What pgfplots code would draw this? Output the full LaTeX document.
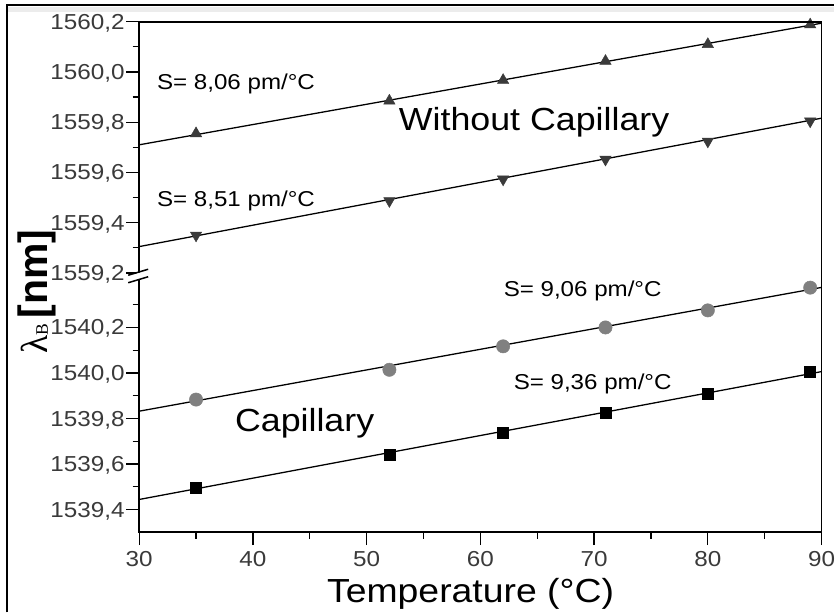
\documentclass[border=0pt]{standalone}
\usepackage{pgfplots}
\pgfplotsset{compat=1.18}
\usepackage{fontspec}
\setmainfont[FakeStretch=1.12]{Liberation Sans}
\newfontfamily\plain{Liberation Sans}
\newfontfamily\serif{Liberation Serif}

\definecolor{tickgray}{HTML}{3A3A3A}
\definecolor{tri}{HTML}{3A3A3A}
\definecolor{circ}{HTML}{808080}

% 1 px of the reference = 0.03cm; px coordinates are used in the scopes below
\pgfplotsset{
  brk/.style={
    scale only axis, width=20.49cm,
    xmin=30, xmax=90,
    axis line style={draw=none},
    tick align=outside,
    ytick pos=left, xtick pos=bottom,
    major tick length=11pt, minor tick length=5.5pt,
    every tick/.style={line width=1.1pt, black},
    every minor tick/.style={line width=1.1pt, black},
    xticklabels={}, yticklabels={},
    fit/.style={black, line width=1.1pt, no markers},
    clip=false,
  }
}

\begin{document}
\begin{tikzpicture}
\begin{scope}[x=0.03cm, y=-0.03cm]
\path[use as bounding box] (0,0) rectangle (835,613);
% outer frame (left and top only) and the grey strip
\fill[gray!15] (8,7) rectangle (835,12);
\draw[line width=2pt, black] (7,613) -- (7,5) -- (835,5);
\end{scope}

% upper part
\begin{axis}[brk, at={(4.179cm,-0.651cm)}, anchor=north west, height=7.719cm,
  ymin=1559.177, ymax=1560.2,
  xtick=\empty,
  ytick={1559.2,1559.4,1559.6,1559.8,1560.0,1560.2},
  minor ytick={1559.3,1559.5,1559.7,1559.9,1560.1}]
\addplot[fit] coordinates {(30,1559.710) (90,1560.194)};
\addplot[fit] coordinates {(30,1559.305) (90,1559.816)};
\addplot[only marks, mark=triangle*, mark size=5.6pt, color=tri] coordinates {
  (35,1559.755) (52,1559.885) (62,1559.967) (71,1560.043) (80,1560.110) (89,1560.188)};
\addplot[only marks, mark=triangle*, mark size=5.6pt, color=tri, mark options={rotate=180}] coordinates {
  (35,1559.350) (52,1559.487) (62,1559.573) (71,1559.652) (80,1559.724) (89,1559.804)};
\end{axis}

% lower part
\begin{axis}[brk, at={(4.179cm,-15.981cm)}, anchor=south west, height=7.611cm,
  ymin=1539.300, ymax=1540.414,
  xtick={30,40,50,60,70,80,90},
  minor xtick={35,45,55,65,75,85},
  ytick={1539.4,1539.6,1539.8,1540.0,1540.2},
  minor ytick={1539.5,1539.7,1539.9,1540.1,1540.3}]
\addplot[fit] coordinates {(30,1539.832) (90,1540.376)};
\addplot[fit] coordinates {(30,1539.444) (90,1540.006)};
\addplot[only marks, mark=*, mark size=5.7pt, color=circ] coordinates {
  (35,1539.883) (52,1540.014) (62,1540.117) (71,1540.200) (80,1540.275) (89,1540.375)};
\addplot[only marks, mark=square*, mark size=4.7pt, color=black] coordinates {
  (35,1539.496) (52,1539.639) (62,1539.739) (71,1539.825) (80,1539.908) (89,1540.007)};
\end{axis}

\begin{scope}[x=0.03cm, y=-0.03cm]
% box lines
\draw[line width=1.6pt, black] (139.3,21.7) -- (822.3,21.7) -- (822.3,532.7);
\draw[line width=2pt, black] (139.3,21.7) -- (139.3,532.7) -- (822.3,532.7);
% axis break
\fill[white] (128,276) -- (150,270) -- (150,277) -- (128,283) -- cycle;
\draw[line width=1.3pt] (128.3,275.5) -- (148.3,269.5);
\draw[line width=1.3pt] (128.3,283) -- (148.3,277);

% tick labels
\foreach \yy/\lab in {21.7/{1560,2}, 72.0/{1560,0}, 122.3/{1559,8}, 172.6/{1559,6}, 222.9/{1559,4}, 273.2/{1559,2},
                      327.7/{1540,2}, 373.3/{1540,0}, 418.9/{1539,8}, 464.5/{1539,6}, 510.1/{1539,4}}
  \node[anchor=base east, inner sep=0, text=tickgray, font=\fontsize{18.5}{22}\selectfont] at (125,\yy+7.5) {\lab};
\foreach \k/\lab in {0/30, 1/40, 2/50, 3/60, 4/70, 5/80, 6/90}
  \node[anchor=base, inner sep=0, text=tickgray, font=\fontsize{18.5}{22}\selectfont] at (139.3+113.83*\k,567.5) {\lab};

% texts
\node[anchor=base west, inner sep=0, font=\fontsize{18.4}{22}\selectfont] at (157,89.3) {S= 8,06 pm/°C};
\node[anchor=base west, inner sep=0, font=\fontsize{18.4}{22}\selectfont] at (157,206.7) {S= 8,51 pm/°C};
\node[anchor=base west, inner sep=0, font=\fontsize{18.4}{22}\selectfont] at (504,296.7) {S= 9,06 pm/°C};
\node[anchor=base west, inner sep=0, font=\fontsize{18.4}{22}\selectfont] at (514,390) {S= 9,36 pm/°C};
\node[anchor=base west, inner sep=0, font=\fontsize{27.3}{32}\selectfont] at (399,130.7) {Without Capillary};
\node[anchor=base west, inner sep=0, font=\fontsize{27.3}{32}\selectfont] at (235,431.7) {Capillary};
\node[anchor=base, inner sep=0, font=\fontsize{28.5}{34}\selectfont] at (471,603.3) {Temperature (°C)};
\node[anchor=base, inner sep=0, rotate=90] at (48,292)
  {{\serif\fontsize{32}{38}\selectfont λ}{\serif\fontsize{15}{18}\selectfont B}\hspace{5pt}{\plain\bfseries\fontsize{35}{40}\selectfont [nm]}};
\end{scope}
\end{tikzpicture}
\end{document}
